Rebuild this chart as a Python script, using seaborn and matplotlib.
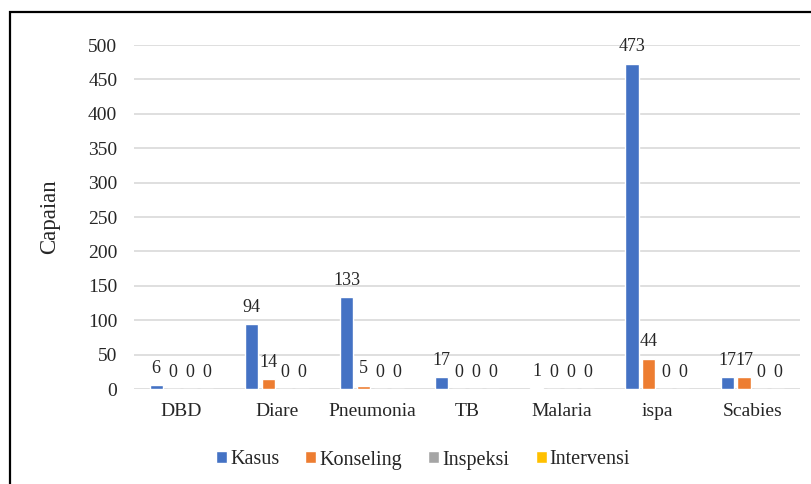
import matplotlib
matplotlib.use("Agg")
import matplotlib.pyplot as plt
from matplotlib.patches import Rectangle
import seaborn as sns
import pandas as pd

categories = ["DBD", "Diare", "Pneumonia", "TB", "Malaria", "ispa", "Scabies"]
series_names = ["Kasus", "Konseling", "Inspeksi", "Intervensi"]
kasus = [6, 94, 133, 17, 1, 473, 17]
konseling = [0, 14, 5, 0, 0, 44, 17]
inspeksi = [0, 0, 0, 0, 0, 0, 0]
intervensi = [0, 0, 0, 0, 0, 0, 0]
y_ticks = [0, 50, 100, 150, 200, 250, 300, 350, 400, 450, 500]

colors = ["#4472C4", "#ED7D31", "#A5A5A5", "#FFC000"]
text_color = "#262626"

rows = []
for name, vals in zip(series_names, [kasus, konseling, inspeksi, intervensi]):
    for cat, v in zip(categories, vals):
        rows.append({"Kategori": cat, "Seri": name, "Capaian": v})
df = pd.DataFrame(rows)

sns.set_theme(style="white")
plt.rcParams["font.family"] = ["Liberation Serif", "DejaVu Serif"]

fig = plt.figure(figsize=(8.11, 4.84), dpi=100)
ax = fig.add_axes([134 / 811, 1 - 389 / 484, 666 / 811, 344 / 484])

sns.barplot(data=df, x="Kategori", y="Capaian", hue="Seri",
            order=categories, hue_order=series_names,
            palette=colors, width=0.71, gap=0.22, ax=ax,
            errorbar=None, saturation=1, legend=True)

ax.set_ylim(0, 500)
ax.set_yticks(y_ticks)
ax.set_xlim(-0.5, len(categories) - 0.5)
ax.yaxis.grid(True, color="#D9D9D9", linewidth=1.2)
ax.xaxis.grid(False)
ax.set_axisbelow(True)
for s in ax.spines.values():
    s.set_visible(False)

ax.tick_params(axis="both", length=0, labelsize=14, colors=text_color)
ax.tick_params(axis="x", pad=10)
ax.tick_params(axis="y", pad=12)
ax.set_xlabel("")
ax.set_ylabel("Capaian", fontsize=16.5, color=text_color, labelpad=20)

for cont in ax.containers:
    labels = ax.bar_label(cont, padding=6, fontsize=13, color=text_color)
    for t in labels:
        t.set_clip_on(False)

handles, labels = ax.get_legend_handles_labels()
ax.legend_.remove()
fig.legend(handles, labels, loc="center", bbox_to_anchor=(423 / 811, 1 - 460 / 484),
           ncol=4, frameon=False, fontsize=14.5, handlelength=0.55, handleheight=0.55,
           handletextpad=0.15, columnspacing=1.3, labelcolor=text_color)

# outer frame of the chart area
fig.patches.append(Rectangle((10 / 811, -0.05), 1.0, 1 - 12 / 484 + 0.05,
                             transform=fig.transFigure, fill=False,
                             edgecolor="black", linewidth=1.6))

fig.savefig("out.png", dpi=100, facecolor="white")
